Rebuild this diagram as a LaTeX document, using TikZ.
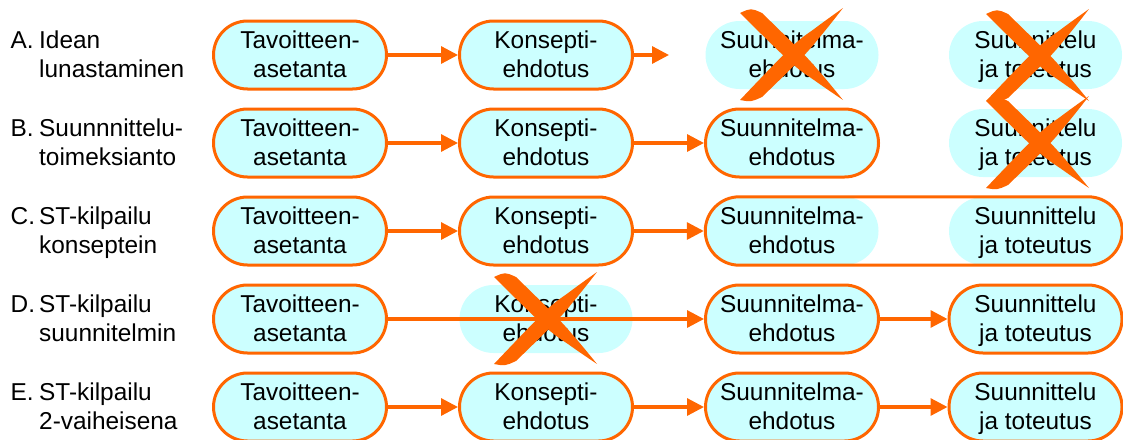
\documentclass[tikz,border=0pt]{standalone}
\usepackage{fontspec}
\setmainfont{Liberation Sans}
\usetikzlibrary{arrows.meta,fit}
\definecolor{brandorange}{HTML}{FF6600}
\definecolor{paleaqua}{HTML}{CCFFFF}
% strut that fixes line height/depth so two-line texts centre alike
\newcommand\ls{\rule[-5.5pt]{0pt}{26pt}}

\begin{document}
\begin{tikzpicture}[x=1pt,y=-1pt,
  every node/.style={inner sep=0pt},
  txt/.style={font=\fontsize{24.4}{29}\selectfont, align=center},
  boxfill/.style={txt, rectangle, rounded corners=34pt, minimum width=173pt,
    minimum height=68pt, fill=paleaqua},
  stepbox/.style={boxfill, draw=brandorange, line width=3pt},
  flow/.style={draw=brandorange, line width=3.2pt,
    -{Triangle[length=17pt,width=17pt]}},
  rowtag/.style={font=\fontsize{24.4}{29}\selectfont, anchor=base west},
  rowname/.style={font=\fontsize{24.4}{29}\selectfont, align=left, anchor=west},
  brushx/.pic={
    % first brush stroke: broad at top left, tapering to bottom right
    \fill[brandorange] plot[smooth, tension=0.6] coordinates
        {(0,5) (50.9,54.5) (76.5,73.8) (103,92)}
      -- plot[smooth, tension=0.6] coordinates
        {(103,92) (82.5,67.2) (61.1,43.5) (22,5)}
      .. controls (11,0) .. (0,5) -- cycle;
    % second brush stroke: broad at bottom left, tapering to top right
    \fill[brandorange] plot[smooth, tension=0.6] coordinates
        {(0,92) (50.8,39.6) (76.4,19.3) (103,0)}
      -- plot[smooth, tension=0.6] coordinates
        {(103,0) (82.6,25.7) (61.2,50.4) (22,89)}
      .. controls (11,94) .. (0,92) -- cycle;
  },
]
\useasboundingbox (0,0) rectangle (1123,439);

% ---- row labels ----
\node[rowtag] (la) at (10.5,48) {A.};
\node[rowname] (lat) at (39,55) {\ls Idean\\\ls lunastaminen};
\node[rowtag] (lb) at (10.5,136) {B.};
\node[rowname] (lbt) at (39,143) {\ls Suunnnittelu-\\\ls toimeksianto};
\node[rowtag] (lc) at (10.5,224) {C.};
\node[rowname] (lct) at (39,231) {\ls ST-kilpailu\\\ls konseptein};
\node[rowtag] (ld) at (10.5,312) {D.};
\node[rowname] (ldt) at (39,319) {\ls ST-kilpailu\\\ls suunnitelmin};
\node[rowtag] (le) at (10.5,400) {E.};
\node[rowname] (let) at (39,407) {\ls ST-kilpailu\\\ls 2-vaiheisena};

% ---- row A ----
\node[stepbox] (a1) at (300,55) {\ls Tavoitteen-\\\ls asetanta};
\node[stepbox] (a2) at (546,55) {\ls Konsepti-\\\ls ehdotus};
\node[boxfill] (a3) at (792,55) {\ls Suunnitelma-\\\ls ehdotus};
\node[boxfill] (a4) at (1035.5,55) {\ls Suunnittelu\\\ls ja toteutus};
\coordinate (a2out) at (669,55);
\draw[flow] (a1) -- (a2);
\draw[flow] (a2) -- (a2out);

% ---- row B ----
\node[stepbox] (b1) at (300,143) {\ls Tavoitteen-\\\ls asetanta};
\node[stepbox] (b2) at (546,143) {\ls Konsepti-\\\ls ehdotus};
\node[stepbox] (b3) at (792,143) {\ls Suunnitelma-\\\ls ehdotus};
\node[boxfill] (b4) at (1035.5,143) {\ls Suunnittelu\\\ls ja toteutus};
\draw[flow] (b1) -- (b2);
\draw[flow] (b2) -- (b3);

% ---- row C ----
\node[stepbox] (c1) at (300,231) {\ls Tavoitteen-\\\ls asetanta};
\node[stepbox] (c2) at (546,231) {\ls Konsepti-\\\ls ehdotus};
\node[boxfill] (c3) at (792,231) {\ls Suunnitelma-\\\ls ehdotus};
\node[boxfill] (c4) at (1035.5,231) {\ls Suunnittelu\\\ls ja toteutus};
\node[fit=(c3)(c4), draw=brandorange, line width=3pt, rounded corners=34pt] (c34) {};
\draw[flow] (c1) -- (c2);
\draw[flow] (c2) -- (c34);

% ---- row D ----
\node[stepbox] (d1) at (300,319) {\ls Tavoitteen-\\\ls asetanta};
\node[boxfill] (d2) at (546,319) {\ls Konsepti-\\\ls ehdotus};
\node[stepbox] (d3) at (792,319) {\ls Suunnitelma-\\\ls ehdotus};
\node[stepbox] (d4) at (1035.5,319) {\ls Suunnittelu\\\ls ja toteutus};
\draw[flow] (d1) -- (d3);
\draw[flow] (d3) -- (d4);

% ---- row E ----
\node[stepbox] (e1) at (300,407) {\ls Tavoitteen-\\\ls asetanta};
\node[stepbox] (e2) at (546,407) {\ls Konsepti-\\\ls ehdotus};
\node[stepbox] (e3) at (792,407) {\ls Suunnitelma-\\\ls ehdotus};
\node[stepbox] (e4) at (1035.5,407) {\ls Suunnittelu\\\ls ja toteutus};
\draw[flow] (e1) -- (e2);
\draw[flow] (e2) -- (e3);
\draw[flow] (e3) -- (e4);

% ---- crossed-out steps ----
\pic at (740,8) {brushx};
\pic at (986,9) {brushx};
\pic at (986,96) {brushx};
\pic at (494,272) {brushx};
\end{tikzpicture}
\end{document}
